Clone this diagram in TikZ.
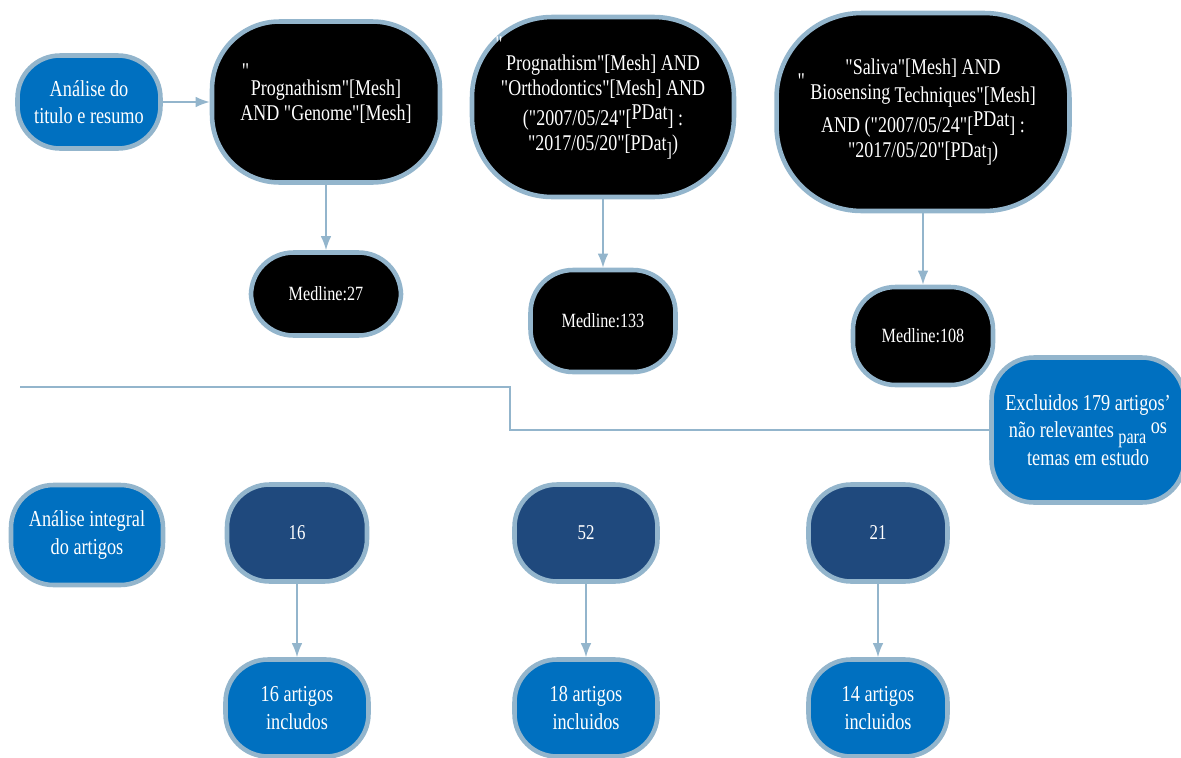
\documentclass[tikz,border=0pt]{standalone}
\usepackage{fontspec}
\setmainfont[FakeStretch=0.8, Ligatures=TeXOff]{Liberation Serif}
\usetikzlibrary{arrows.meta}
\definecolor{rim}{HTML}{93B5CC}
\definecolor{boxblue}{HTML}{0070C0}
\definecolor{boxnavy}{HTML}{1F497D}
\newcommand{\lowtext}[1]{\raisebox{-0.5ex}{\fontsize{11.5}{12}\selectfont #1}}
\tikzset{
	box/.style={draw=rim, line width=2.6pt, rounded corners=0.85cm, text=white, align=center, inner sep=1pt, font=\fontsize{13}{15.5}\selectfont},
	bluebox/.style={box, fill=boxblue},
	navybox/.style={box, fill=boxnavy, font=\fontsize{12}{14}\selectfont},
	querybox/.style={box, fill=black, rounded corners=1.6cm, font=\fontsize{12.8}{14.2}\selectfont},
	medbox/.style={box, fill=black, font=\fontsize{11.5}{13}\selectfont},
	link/.style={draw=rim, line width=0.9pt, -{Latex[length=8pt,width=6pt]}},
	rule/.style={draw=rim, line width=0.9pt}
}
\begin{document}
\begin{tikzpicture}[x=0.02cm, y=-0.02cm]
	\useasboundingbox (0,0) rectangle (1181,758);

	\node[bluebox, minimum width=2.86cm, minimum height=1.86cm] (titulo) at (89, 102) {Análise do\\titulo e resumo};
	\node[querybox, rounded corners=1.35cm, minimum width=4.56cm, minimum height=3.22cm] (q1) at (326, 102) {\llap{\smash{\raisebox{0.75em}{"}}\hspace{1pt}}Prognathism"[Mesh]\\AND "Genome"[Mesh]};
	\node[querybox, minimum width=5.24cm, minimum height=3.6cm] (q2) at (603, 107) {\llap{\smash{\raisebox{0.85em}{"}}\hspace{2pt}}Prognathism"[Mesh] AND\\"Orthodontics"[Mesh] AND\\[3pt]("2007/05/24"[\raisebox{0.6ex}{PDat}] :\\"2017/05/20"[PDat\lowtext{]})};
	\node[querybox, rounded corners=1.7cm, minimum width=5.86cm, minimum height=3.96cm] (q3) at (923, 112) {"Saliva"[Mesh] AND\\\llap{\smash{\raisebox{0.5em}{"}}\hspace{3pt}}Biosensing \smash{\raisebox{-0.3ex}{Techniques"[Mesh]}}\\[3pt]AND ("2007/05/24"[\raisebox{0.6ex}{PDat}] :\\"2017/05/20"[PDat\lowtext{]})};

	\node[medbox, minimum width=3.0cm, minimum height=1.66cm] (m1) at (326, 294) {Medline:27};
	\node[medbox, minimum width=2.9cm, minimum height=2.04cm] (m2) at (603, 321) {Medline:133};
	\node[medbox, minimum width=2.8cm, minimum height=1.96cm] (m3) at (923, 336) {Medline:108};

	\node[bluebox, minimum width=3.86cm, minimum height=2.9cm] (excl) at (1088, 430) {Excluidos 179 artigos’\\não relevantes \lowtext{para} \raisebox{0.4ex}{os}\\temas em estudo};

	\node[bluebox, minimum width=3.04cm, minimum height=2.0cm] (integral) at (87, 535) {Análise integral\\do artigos};
	\node[navybox, minimum width=2.8cm, minimum height=1.94cm] (n16) at (297, 533) {16};
	\node[navybox, minimum width=2.86cm, minimum height=1.94cm] (n52) at (586, 533) {52};
	\node[navybox, minimum width=2.78cm, minimum height=1.94cm] (n21) at (878, 533) {21};

	\node[bluebox, minimum width=2.86cm, minimum height=1.94cm] (a16) at (297, 708) {16 artigos\\includos};
	\node[bluebox, minimum width=2.86cm, minimum height=1.94cm] (a18) at (586, 708) {18 artigos\\incluidos};
	\node[bluebox, minimum width=2.78cm, minimum height=1.94cm] (a14) at (878, 708) {14 artigos\\incluidos};

	\draw[link] (titulo.east) -- (q1.west);
	\draw[link] (q1.south) -- (m1.north);
	\draw[link] (q2.south) -- (m2.north);
	\draw[link] (q3.south) -- (m3.north);
	\draw[link] (n16.south) -- (a16.north);
	\draw[link] (n52.south) -- (a18.north);
	\draw[link] (n21.south) -- (a14.north);

	\coordinate (cut) at (20, 387);
	\coordinate (bend) at (510, 387);
	\draw[rule] (cut) -- (bend) |- (excl.west);
\end{tikzpicture}
\end{document}
